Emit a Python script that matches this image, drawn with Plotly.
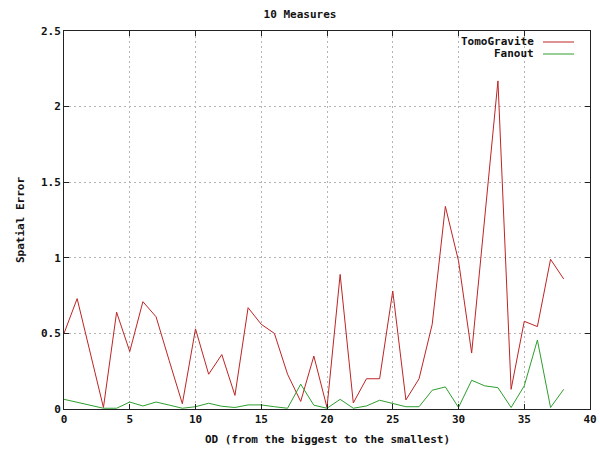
import plotly.graph_objects as go

# OD index (from the biggest to the smallest)
od = list(range(39))

tomogravite = [0.50, 0.73, 0.37, 0.01, 0.64, 0.38, 0.71, 0.61, 0.32, 0.035,
               0.53, 0.23, 0.36, 0.09, 0.67, 0.56, 0.50, 0.23, 0.05, 0.35,
               0.01, 0.89, 0.04, 0.20, 0.20, 0.78, 0.06, 0.20, 0.56, 1.34,
               0.98, 0.37, 1.27, 2.17, 0.13, 0.58, 0.545, 0.99, 0.86]

fanout = [0.064, 0.045, 0.025, 0.005, 0.005, 0.046, 0.02, 0.046, 0.026, 0.005,
          0.015, 0.038, 0.018, 0.01, 0.027, 0.027, 0.015, 0.005, 0.164, 0.025,
          0.005, 0.064, 0.005, 0.02, 0.058, 0.035, 0.015, 0.015, 0.124, 0.146,
          0.01, 0.19, 0.153, 0.141, 0.01, 0.153, 0.456, 0.01, 0.13]

x_ticks = [0, 5, 10, 15, 20, 25, 30, 35, 40]
y_ticks = [0, 0.5, 1, 1.5, 2, 2.5]
y_tick_labels = ["0", "0.5", "1", "1.5", "2", "2.5"]

series_names = ["TomoGravite", "Fanout"]
series_colors = ["#be2424", "#2e9e2e"]

FONT = "DejaVu Sans Mono"

fig = go.Figure()
for name, vals, col in zip(series_names, [tomogravite, fanout], series_colors):
    fig.add_trace(go.Scatter(x=od, y=vals, mode="lines", name=name,
                             line=dict(color=col, width=1), showlegend=False))

axis_common = dict(
    showgrid=True, gridcolor="#b4b4b4", griddash="2px,3px", gridwidth=1,
    showline=True, linecolor="#222222", linewidth=1, mirror="ticks",
    ticks="inside", ticklen=5, tickcolor="#222222",
    zeroline=False, automargin=False,
    tickfont=dict(family=FONT, size=11, color="#111111", weight="bold"),
)

fig.update_layout(
    width=600, height=451,
    margin=dict(l=64, r=10, t=31, b=42, autoexpand=False),
    paper_bgcolor="white", plot_bgcolor="white",
    font=dict(family=FONT, size=11, color="#111111"),
    title=dict(text="<b>10 Measures</b>", x=0.5, xanchor="center",
               y=1 - 14 / 451, yanchor="middle",
               font=dict(family=FONT, size=11)),
    xaxis=dict(range=[0, 40], tickvals=x_ticks, **axis_common),
    yaxis=dict(range=[0, 2.5], tickvals=y_ticks, ticktext=y_tick_labels,
               **axis_common),
)

# axis titles
fig.add_annotation(text="<b>OD (from the biggest to the smallest)</b>",
                   xref="paper", yref="paper", x=0.5, y=-22 / 378,
                   xanchor="center", yanchor="top", showarrow=False,
                   font=dict(family=FONT, size=11))
fig.add_annotation(text="<b>Spatial Error</b>", textangle=-90,
                   xref="paper", yref="paper", x=-44 / 526, y=0.5,
                   xanchor="center", yanchor="middle", showarrow=False,
                   font=dict(family=FONT, size=11))

# key in the upper right corner: label then line sample
key_rows_px = [42, 54]
for name, col, ypx in zip(series_names, series_colors, key_rows_px):
    yp = 1 - (ypx - 31) / 378
    fig.add_annotation(text="<b>%s</b>" % name, xref="paper", yref="paper",
                       x=(536 - 64) / 526, y=yp, xanchor="right",
                       yanchor="middle", showarrow=False,
                       font=dict(family=FONT, size=11))
    fig.add_shape(type="line", xref="paper", yref="paper",
                  x0=(543 - 64) / 526, x1=(574 - 64) / 526, y0=yp, y1=yp,
                  line=dict(color=col, width=1))

fig.write_html("out.html")
